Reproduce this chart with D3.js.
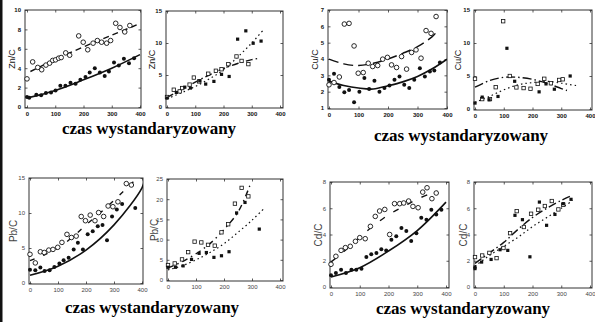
<!DOCTYPE html>
<html>
<head>
<meta charset="utf-8">
<script src="https://cdn.jsdelivr.net/npm/d3@7"></script>
<style>
  body { margin: 0; background: #fff; }
  svg { display: block; }
  .tick text { font-family: "Liberation Sans", Arial, sans-serif; }
</style>
</head>
<body>
<svg width="595" height="322"></svg>
<script>
// ---- data: [time, ratio] ----
var xTicks = [0, 100, 200, 300, 400];

// Zn/C
var znA_open = [[0,2.9],[20,4.65],[38,4.08],[52,3.84],[67,4.32],[80,4.52],[91,4.8],[101,4.86],[112,5.03],[121,5.1],[137,5.58],[151,5.34],[183,7.33],[199,6.68],[215,5.9],[234,6.58],[249,6.85],[264,6.68],[282,6.58],[296,6.85],[314,8.63],[329,8.2],[346,7.74],[364,8.4]];
var znA_fill = [[0,1.03],[8,0.95],[33,1.27],[50,1.2],[67,1.44],[85,1.5],[101,1.7],[118,2.2],[136,2.2],[154,2.5],[172,2.4],[189,2.8],[207,3.1],[222,3.56],[240,4.0],[258,3.56],[275,3.2],[290,3.66],[308,4.6],[325,4.28],[343,4.97],[361,4.5],[379,5.03]];
var znA_fitOpen = [[12,3.66],[100,4.9],[200,6.2],[300,7.4],[400,8.6]];
var znA_fitFill = [[0,0.92],[100,1.7],[200,2.8],[300,4.0],[400,5.4]];

var znB_open = [[0,1.56],[24,2.7],[45,2.44],[54,2.96],[80,3.5],[95,4.6],[114,4.0],[146,5.2],[173,5.66],[193,5.9],[217,6.7],[246,7.9],[264,7.2],[288,6.7]];
var znB_fill = [[0,1.4],[33,2.28],[63,3.1],[83,2.96],[116,4.1],[137,3.58],[166,4.0],[193,5.1],[220,4.77],[250,10.6],[279,11.9],[305,9.96],[333,10.3]];
var znB_fitOpen = [[0,1.5],[50,2.7],[100,3.9],[150,5.0],[200,6.0],[250,6.8],[300,7.4],[325,7.6]];
var znB_fitFill = [[0,1.3],[50,2.2],[100,3.2],[150,4.4],[200,5.8],[250,7.8],[300,10.0],[340,12.0]];

// Cu/C
var cuA_open = [[0,2.42],[17,2.56],[35,2.9],[52,6.14],[68,6.18],[85,4.8],[99,3.13],[116,3.17],[133,3.74],[148,3.54],[165,3.6],[182,3.99],[198,4.1],[212,3.64],[229,3.48],[246,4.15],[263,3.38],[280,4.4],[295,4.56],[312,4.05],[329,5.74],[346,5.57],[363,6.6]];
var cuA_fill = [[0,2.73],[17,3.1],[35,2.28],[52,1.96],[68,2.1],[85,1.35],[103,2.0],[120,2.83],[136,2.16],[154,2.67],[171,2.0],[188,2.22],[205,2.38],[222,2.73],[239,2.93],[255,2.42],[272,2.22],[289,2.73],[308,3.44],[325,2.93],[342,3.24],[357,3.3],[376,3.78]];
var cuA_fitOpen = [[0,3.99],[50,3.7],[100,3.6],[150,3.74],[200,4.0],[250,4.35],[300,4.76],[350,5.37],[370,5.78]];
var cuA_fitFill = [[0,2.63],[50,2.38],[100,2.22],[150,2.16],[200,2.36],[250,2.6],[300,2.93],[350,3.4],[400,3.99]];

var cuB_open = [[0,4.58],[25,1.5],[52,1.5],[72,3.3],[98,13.3],[121,5.0],[144,3.27],[169,3.17],[193,3.07],[218,3.8],[241,4.58],[264,3.9],[293,4.4],[305,4.5]];
var cuB_fill = [[0,0.9],[25,1.8],[49,1.4],[80,1.9],[111,9.2],[138,4.2],[223,2.6],[247,3.8],[276,3.0],[331,5.0]];
var cuB_fitOpen = [[0,3.3],[50,4.3],[100,4.8],[150,4.8],[200,4.5],[250,3.9],[300,3.1],[320,2.8]];
var cuB_fitFill = [[0,1.0],[50,1.9],[100,2.9],[150,3.67],[200,4.0],[250,4.2],[300,3.9],[360,3.5]];

// Pb/C
var pbA_open = [[0,4.1],[19,2.87],[37,4.46],[51,4.36],[67,4.7],[82,4.8],[99,5.1],[114,5.8],[132,6.95],[148,6.5],[165,6.7],[183,9.5],[198,8.9],[215,9.7],[232,8.9],[245,10.06],[263,9.5],[279,11.0],[296,10.9],[314,11.6],[344,14.2],[362,14.0]];
var pbA_fill = [[0,1.9],[19,1.82],[37,2.2],[52,1.72],[70,1.82],[87,2.3],[105,2.78],[120,3.26],[138,3.6],[156,4.8],[171,5.75],[189,4.8],[206,6.95],[224,7.4],[242,8.1],[259,8.3],[275,6.1],[293,9.5],[310,10.5],[329,11.3],[376,10.7]];
var pbA_fitOpen = [[0,3.2],[50,4.0],[100,5.0],[150,6.5],[200,8.3],[250,10.0],[300,11.8],[370,14.5]];
var pbA_fitFill = [[0,1.1],[100,2.4],[200,4.7],[300,8.3],[400,13.6],[410,14.9]];

var pbB_open = [[0,3.7],[24,4.1],[50,5.1],[72,6.9],[95,9.5],[119,9.3],[143,8.7],[167,8.5],[191,11.8],[215,13.8],[239,18.9],[263,22.8],[287,20.7]];
var pbB_fill = [[0,3.15],[27,3.15],[54,3.5],[84,5.1],[111,6.6],[137,6.8],[164,5.6],[191,6.0],[218,7.0],[245,16.6],[275,19.2],[326,12.6]];
var pbB_fitOpen = [[0,3.0],[50,4.5],[100,6.5],[150,9.0],[200,12.5],[250,16.8],[292,23.3]];
var pbB_fitFill = [[0,2.5],[50,3.5],[100,5.0],[150,6.8],[200,9.0],[250,11.8],[300,14.8],[340,17.5]];

// Cd/C
var cdA_open = [[0,1.73],[17,2.34],[35,2.79],[50,3.0],[67,3.1],[85,3.48],[100,3.76],[119,3.68],[137,4.62],[154,5.38],[169,5.79],[187,5.91],[204,4.0],[221,6.35],[239,6.35],[253,6.4],[270,6.55],[285,6.14],[303,6.04],[319,7.23],[334,7.56],[351,6.73],[366,7.16]];
var cdA_fill = [[0,0.89],[17,1.07],[35,1.32],[52,1.07],[71,1.32],[88,1.32],[106,1.4],[123,2.28],[140,2.49],[158,2.59],[175,2.87],[192,2.79],[210,3.6],[227,3.86],[245,4.5],[262,4.26],[279,3.5],[297,4.1],[314,5.28],[332,5.13],[349,5.89],[366,5.53],[384,5.89]];
var cdA_fitOpen = [[0,1.9],[50,2.8],[100,3.8],[150,4.7],[200,5.5],[250,6.1],[300,6.7],[370,7.3]];
var cdA_fitFill = [[0,0.76],[100,1.47],[200,2.74],[300,4.3],[400,6.47]];

var cdB_open = [[0,2.28],[25,2.4],[50,2.6],[75,2.2],[99,2.97],[122,4.1],[145,5.78],[170,4.57],[195,5.58],[220,5.89],[243,6.17],[267,6.55],[290,5.91],[307,6.27]];
var cdB_fill = [[0,1.52],[0,1.4],[23,1.9],[56,2.1],[87,2.84],[114,2.79],[139,5.46],[165,5.13],[191,2.3],[224,6.47],[249,4.7],[278,5.53],[307,6.35],[334,6.68]];
var cdB_fitOpen = [[0,1.8],[50,2.6],[100,3.4],[150,4.4],[200,5.3],[250,6.0],[300,6.6],[330,6.9]];
var cdB_fitFill = [[0,1.6],[50,2.4],[100,3.1],[150,3.8],[200,4.6],[250,5.3],[300,6.0],[340,6.6]];

// ---- layout ----
var svg = d3.select("svg");

// thick border at the left edge of the page
svg.append("rect").attr("x", 0).attr("y", 0).attr("width", 2.5).attr("height", 322).attr("fill", "#111");

var panels = [
  {label: "Zn/C", box: [25, 10, 141, 108], xr: [27, 140], yd: [0, 10], yr: [107, 10], yt: [0,2,4,6,8,10], open: znA_open, fill: znA_fill, fo: znA_fitOpen, ff: znA_fitFill, mk: "circle", dashO: "6,4", dashF: null, lx: 12, row: 0},
  {label: "Zn/C", box: [166, 11, 283, 108], xr: [167, 280], yd: [0, 15], yr: [107, 11], yt: [0,5,10,15], open: znB_open, fill: znB_fill, fo: znB_fitOpen, ff: znB_fitFill, mk: "square", dashO: "7,3,1.5,3", dashF: "1.5,3", lx: 152, row: 0},
  {label: "Cu/C", box: [328, 10, 447, 109], xr: [329, 447], yd: [1, 7], yr: [108, 10], yt: [1,2,3,4,5,6,7], open: cuA_open, fill: cuA_fill, fo: cuA_fitOpen, ff: cuA_fitFill, mk: "circle", dashO: "10,5", dashF: null, lx: 315, row: 0},
  {label: "Cu/C", box: [474, 10, 592, 110], xr: [475, 590], yd: [0, 15], yr: [109, 10], yt: [0,5,10,15], open: cuB_open, fill: cuB_fill, fo: cuB_fitOpen, ff: cuB_fitFill, mk: "square", dashO: "9,3,1.5,3", dashF: "1.5,3", lx: 458, row: 0},
  {label: "Pb/C", box: [29, 178, 143, 284], xr: [30, 142], yd: [0, 15], yr: [283, 178], yt: [0,5,10,15], open: pbA_open, fill: pbA_fill, fo: pbA_fitOpen, ff: pbA_fitFill, mk: "circle", dashO: "5,9", dashF: null, lx: 13, row: 1},
  {label: "Pb/C", box: [167, 179, 283, 281], xr: [168, 280], yd: [0, 25], yr: [280, 179], yt: [0,5,10,15,20,25], open: pbB_open, fill: pbB_fill, fo: pbB_fitOpen, ff: pbB_fitFill, mk: "square", dashO: "6,4,1.5,4", dashF: "1.5,3", lx: 154, row: 1},
  {label: "Cd/C", box: [330, 182, 449, 288], xr: [331, 446], yd: [0, 8], yr: [287, 182], yt: [0,2,4,6,8], open: cdA_open, fill: cdA_fill, fo: cdA_fitOpen, ff: cdA_fitFill, mk: "circle", dashO: "6,10", dashF: null, lx: 318, row: 1},
  {label: "Cd/C", box: [474, 182, 592, 288], xr: [475, 590], yd: [0, 8], yr: [287, 182], yt: [0,2,4,6,8], open: cdB_open, fill: cdB_fill, fo: cdB_fitOpen, ff: cdB_fitFill, mk: "square", dashO: "8,3,1.5,3", dashF: "1.5,3", lx: 463, row: 1}
];

panels.forEach(function (p) {
  var g = svg.append("g");
  var x = d3.scaleLinear().domain([0, 400]).range(p.xr);
  var y = d3.scaleLinear().domain(p.yd).range(p.yr);
  var L = p.box[0], T = p.box[1], R = p.box[2], B = p.box[3];
  var tickCol = p.row === 0 ? "#111" : "#444";
  var fmt = d3.format("d");

  // clip so fit lines stay inside the frame
  var cid = "clip" + L + "_" + T;
  svg.append("clipPath").attr("id", cid)
    .append("rect").attr("x", L).attr("y", T).attr("width", R - L).attr("height", B - T);

  // axes with inward ticks, frame drawn separately
  g.append("g").attr("transform", "translate(0," + B + ")")
    .call(d3.axisBottom(x).tickValues(xTicks).tickFormat(fmt).tickSize(-2.5).tickPadding(4));
  g.append("g").attr("transform", "translate(" + L + ",0)")
    .call(d3.axisLeft(y).tickValues(p.yt).tickFormat(fmt).tickSize(-2.5).tickPadding(4));
  g.append("g").attr("transform", "translate(0," + T + ")")
    .call(d3.axisTop(x).tickValues(xTicks).tickSize(-2.5).tickFormat(""));
  g.append("g").attr("transform", "translate(" + R + ",0)")
    .call(d3.axisRight(y).tickValues(p.yt).tickSize(-2.5).tickFormat(""));
  g.selectAll(".domain").remove();
  g.selectAll(".tick line").attr("stroke", "#333").attr("stroke-width", 0.8);
  g.selectAll(".tick text")
    .attr("font-size", 6)
    .attr("font-weight", p.row === 0 ? "bold" : "normal")
    .attr("fill", tickCol);

  g.append("rect")
    .attr("x", L).attr("y", T).attr("width", R - L).attr("height", B - T)
    .attr("fill", "none").attr("stroke", "#333").attr("stroke-width", 1);

  // y-axis title
  g.append("text")
    .attr("transform", "translate(" + p.lx + "," + ((T + B) / 2) + ") rotate(-90)")
    .attr("text-anchor", "middle")
    .attr("dy", "0.35em")
    .attr("font-family", "Liberation Sans, Arial, sans-serif")
    .attr("font-size", p.row === 0 ? 9 : 10)
    .attr("fill", tickCol)
    .text(p.label);

  // fit lines
  var line = d3.line()
    .x(function (d) { return x(d[0]); })
    .y(function (d) { return y(d[1]); })
    .curve(d3.curveCatmullRom);
  var lines = g.append("g").attr("clip-path", "url(#" + cid + ")");
  lines.append("path").datum(p.ff)
    .attr("d", line).attr("fill", "none").attr("stroke", "#111")
    .attr("stroke-width", p.dashF ? 1.2 : 1.6)
    .attr("stroke-dasharray", p.dashF);
  lines.append("path").datum(p.fo)
    .attr("d", line).attr("fill", "none").attr("stroke", "#111")
    .attr("stroke-width", 1.4)
    .attr("stroke-dasharray", p.dashO);

  // markers
  if (p.mk === "circle") {
    g.selectAll(".o").data(p.open).enter().append("circle")
      .attr("cx", function (d) { return x(d[0]); })
      .attr("cy", function (d) { return y(d[1]); })
      .attr("r", 2.3).attr("fill", "#fff").attr("stroke", "#111").attr("stroke-width", 0.9);
    g.selectAll(".f").data(p.fill).enter().append("circle")
      .attr("cx", function (d) { return x(d[0]); })
      .attr("cy", function (d) { return y(d[1]); })
      .attr("r", 2).attr("fill", "#111");
  } else {
    g.selectAll(".o").data(p.open).enter().append("rect")
      .attr("x", function (d) { return x(d[0]) - 1.7; })
      .attr("y", function (d) { return y(d[1]) - 1.7; })
      .attr("width", 3.4).attr("height", 3.4)
      .attr("fill", "#fff").attr("stroke", "#111").attr("stroke-width", 0.8);
    g.selectAll(".f").data(p.fill).enter().append("rect")
      .attr("x", function (d) { return x(d[0]) - 1.6; })
      .attr("y", function (d) { return y(d[1]) - 1.6; })
      .attr("width", 3.2).attr("height", 3.2)
      .attr("fill", "#111");
  }
});

// captions under each pair
var captions = [[149, 134], [461, 141], [152, 313], [463, 314]];
svg.selectAll(".cap").data(captions).enter().append("text")
  .attr("x", function (d) { return d[0]; })
  .attr("y", function (d) { return d[1]; })
  .attr("text-anchor", "middle")
  .attr("font-family", "Liberation Serif, Times New Roman, serif")
  .attr("font-weight", "bold")
  .attr("font-size", 17)
  .attr("fill", "#000")
  .text("czas wystandaryzowany");
</script>
</body>
</html>
